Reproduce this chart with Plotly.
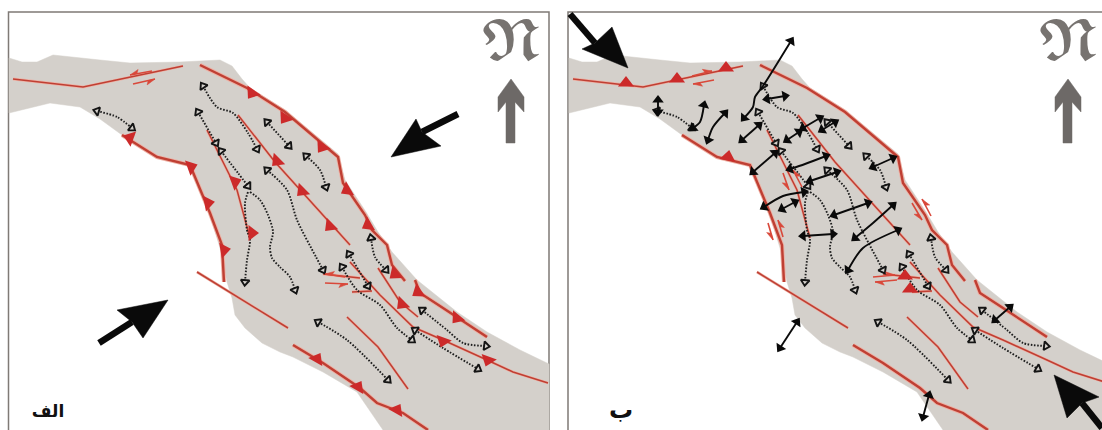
import math
import plotly.graph_objects as go

W, H = 1102, 430
B_SHIFT = 560

MAP = "#d4d0cb"
RED = "#bf3f33"
HALO = "#eeb0a4"
TOOTH = "#cc2a2a"
BLACK = "#0a0a0a"
GREY = "#6d6967"
FRAME = "#7f7a76"

# ---- base map outline (panel A position) ----
map_outline = [(9, 58), (22, 62), (37, 62), (53, 55), (100, 60), (130, 63), (180, 62), (220, 60), (232, 66),
               (242, 79), (250, 88), (285, 110), (338, 154), (345, 180), (366, 212), (378, 232), (392, 252),
               (417, 280), (457, 312), (487, 332), (520, 350), (549, 364), (549, 430), (383, 430), (357, 392),
               (323, 372), (293, 357), (280, 352), (262, 343), (245, 328), (235, 315), (232, 298), (227, 282),
               (220, 248), (210, 215), (190, 165), (157, 157), (122, 135), (100, 119), (80, 107), (50, 103), (9, 113)]

# ---- faults shared by both panels ----
f_strike = [(13, 79), (83, 87), (183, 66)]
f_east = [(200, 65), (247, 88), (285, 112), (338, 157), (343, 183), (365, 215), (372, 230), (387, 245),
          (392, 265), (405, 281)]
f_east2 = [(415, 280), (420, 293), (443, 308), (487, 337)]
f_west = [(122, 135), (157, 157), (190, 165), (210, 213), (222, 245), (224, 282)]
f_inner = [(207, 130), (232, 180), (237, 190), (250, 238)]
f_middle = [(238, 115), (275, 162), (350, 245)]
f_long = [(350, 262), (380, 295), (413, 327), (443, 340), (487, 360), (513, 372), (548, 383)]
f_lower = [(378, 268), (400, 302), (418, 317)]
f_south_in = [(347, 317), (378, 347), (408, 389)]
f_sw = [(197, 272), (280, 323), (288, 328)]
f_south = [(293, 345), (323, 363), (360, 388), (377, 403), (403, 413), (428, 430)]
f_tick_a = [(323, 274), (360, 278)]
f_tick_b = [(352, 292), (372, 291)]
thick_faults = [f_east, f_east2, f_west, f_south]
thin_faults = [f_strike, f_inner, f_middle, f_long, f_lower, f_south_in, f_sw, f_tick_a, f_tick_b]

# ---- thrust teeth: x, y, rotation ----
teeth_a_x = [252, 285, 322, 347, 368, 395, 418, 457, 235, 252, 130, 191, 208, 224, 277, 302, 330, 402, 443, 488, 317, 358, 397]
teeth_a_y = [93, 118, 147, 190, 225, 274, 292, 318, 182, 233, 138, 167, 203, 250, 161, 191, 226, 304, 341, 360, 359, 387, 410]
teeth_a_r = [215, 215, 215, 240, 240, 230, 235, 220, 70, 90, 290, 70, 80, 80, 225, 225, 225, 225, 200, 200, 30, 30, 30]
teeth_b_x = [626, 677, 726, 728, 905, 910]
teeth_b_y = [83, 79, 68, 157, 276, 289]
teeth_b_r = [0, 0, 0, 10, 0, 0]

# ---- dotted trajectories, shared ----
dot_1 = [(97, 111), (117, 117), (132, 128)]
dot_2 = [(203, 86), (217, 107), (233, 113), (248, 133), (257, 149)]
dot_3 = [(198, 112), (216, 143)]
dot_4 = [(221, 151), (238, 173), (248, 186)]
dot_5 = [(248, 192), (245, 203), (247, 230), (250, 240), (247, 260), (245, 282)]
dot_6 = [(250, 192), (260, 200), (268, 215), (273, 232), (270, 247), (272, 258), (280, 267), (290, 277), (295, 290)]
dot_7 = [(267, 170), (287, 190), (297, 220), (316, 257), (323, 270)]
dot_8 = [(267, 122), (289, 146)]
dot_9 = [(306, 156), (320, 170), (326, 187)]
dot_10 = [(371, 238), (375, 257), (386, 270)]
dot_11 = [(349, 254), (368, 286)]
dot_12 = [(342, 267), (357, 290), (380, 305), (397, 328), (412, 340)]
dot_13 = [(415, 330), (443, 348), (478, 369)]
dot_14 = [(422, 310), (447, 330), (463, 343), (486, 346)]
dot_15 = [(318, 322), (347, 340), (388, 380)]
dot_both = [dot_1, dot_2, dot_3, dot_4, dot_7, dot_8, dot_9, dot_10, dot_11, dot_12, dot_13, dot_14, dot_15]
dot_end_only = [dot_5, dot_6]

# ---- red half arrows: tail x, tail y, tip x, tip y, barb side ----
half_a = [(152, 71, 130, 75, 1), (133, 84, 155, 79, 1), (345, 277, 325, 274, 1), (325, 283, 348, 284, 1)]
half_b = [(692, 76, 712, 71, -1), (714, 80, 693, 84, -1), (873, 277, 895, 275, -1), (897, 280, 875, 282, -1),
          (783, 173, 789, 190, 1), (802, 187, 793, 170, 1), (768, 223, 773, 240, 1), (783, 237, 778, 220, 1),
          (912, 203, 922, 220, 1), (931, 216, 922, 199, 1)]

# ---- big black stress arrows: tail, tip, barb, notch, barb ----
big_a1 = [(458, 114), (391, 157), (416, 119), (422, 132), (441, 146)]
big_a2 = [(99, 343), (168, 300), (117, 310), (132, 322), (143, 338)]
big_b1 = [(570, 14), (628, 68), (612, 27), (595, 43), (582, 49)]
big_b2 = [(1102, 428), (1054, 375), (1099, 397), (1082, 403), (1067, 418)]

# ---- north arrow ----
north_outline = [(511, 79), (524, 97), (524, 112), (515, 102), (515, 143), (506, 143), (506, 102), (498, 112), (498, 97)]
north_b_shift = 557

# ---- black double arrows, panel B only ----
dbl = [
    [(791, 41), (763, 86), (755, 97), (753, 107), (744, 118)],
    [(767, 99), (785, 96)],
    [(658, 100), (658, 112)],
    [(693, 128), (700, 122), (704, 105)],
    [(708, 140), (713, 127), (725, 113)],
    [(742, 140), (759, 125)],
    [(753, 172), (775, 153)],
    [(787, 140), (799, 132)],
    [(803, 128), (820, 118)],
    [(822, 130), (835, 122)],
    [(790, 169), (805, 164), (826, 156)],
    [(810, 181), (837, 172)],
    [(764, 207), (783, 196), (804, 192)],
    [(782, 209), (795, 202)],
    [(803, 236), (833, 234)],
    [(834, 215), (868, 203)],
    [(855, 238), (873, 223), (893, 205)],
    [(848, 270), (863, 248), (898, 230)],
    [(873, 167), (893, 158)],
    [(780, 348), (797, 322)],
    [(923, 417), (929, 395)],
    [(995, 320), (1010, 307)],
]

frame_a = [(8.5, 430), (8.5, 12), (549, 12), (549, 430)]
frame_b = [(568, 430), (568, 12), (1102, 12)]

label_text = ["الف", "ب"]
north_text = "𝕹"


def xs(p, dx=0):
    return [q[0] + dx for q in p]


def ys(p):
    return [q[1] for q in p]


def heading(a, b):
    return math.degrees(math.atan2(b[0] - a[0], -(b[1] - a[1])))


fig = go.Figure()


def line(p, color, width, dx=0, dash=None, shape="linear"):
    fig.add_trace(go.Scatter(x=xs(p, dx), y=ys(p), mode="lines", hoverinfo="skip",
                             line=dict(color=color, width=width, dash=dash, shape=shape, smoothing=0.8)))


def poly(p, color, dx=0):
    q = p + [p[0]]
    fig.add_trace(go.Scatter(x=xs(q, dx), y=ys(q), mode="lines", fill="toself", fillcolor=color,
                             line=dict(color=color, width=0.5), hoverinfo="skip"))


def markers(x, y, angle, size, color, border=None, bw=0):
    fig.add_trace(go.Scatter(x=x, y=y, mode="markers", hoverinfo="skip",
                             marker=dict(symbol="triangle-up", size=size, color=color, angle=angle,
                                         line=dict(color=border or color, width=bw))))


def text(x, y, s, family, size, color, weight="normal"):
    fig.add_trace(go.Scatter(x=[x], y=[y], mode="text", text=[s], textposition="middle center", hoverinfo="skip",
                             textfont=dict(family=family, size=size, color=color, weight=weight)))


def half_arrow(t):
    x0, y0, x1, y1, side = t
    L = math.hypot(x1 - x0, y1 - y0)
    ux, uy = (x1 - x0) / L, (y1 - y0) / L
    line([(x0, y0), (x1, y1)], "#d9483a", 1.6)
    poly([(x1, y1), (x1 - 9 * ux - 4 * side * uy, y1 - 9 * uy + 4 * side * ux), (x1 - 7 * ux, y1 - 7 * uy)], "#d9483a")


def big_arrow(a):
    line([a[0], a[3]], BLACK, 6.5)
    poly(a[1:], BLACK)


def draw_panel(dx):
    poly(map_outline, MAP, dx)
    for f in thick_faults:
        line(f, HALO, 4.2, dx)
        line(f, RED, 2.4, dx)
    for f in thin_faults:
        line(f, HALO, 2.8, dx)
        line(f, RED, 1.5, dx)
    for d in dot_both + dot_end_only:
        line(d, "#1e1e1e", 1.9, dx, dash="1.6px,1.6px", shape="spline")
    mx, my, ma = [], [], []
    for d in dot_both:
        mx += [d[0][0] + dx, d[-1][0] + dx]
        my += [d[0][1], d[-1][1]]
        ma += [heading(d[1], d[0]), heading(d[-2], d[-1])]
    for d in dot_end_only:
        mx.append(d[-1][0] + dx)
        my.append(d[-1][1])
        ma.append(heading(d[-2], d[-1]))
    markers(mx, my, ma, 7.5, MAP, "#141414", 1.9)


# panel frames
line(frame_a, FRAME, 1.5)
line(frame_b, FRAME, 1.5)

draw_panel(0)
markers(teeth_a_x, teeth_a_y, teeth_a_r, 14, TOOTH)
for t in half_a:
    half_arrow(t)

draw_panel(B_SHIFT)
markers(teeth_b_x, teeth_b_y, teeth_b_r, 14, TOOTH)
for t in half_b:
    half_arrow(t)

for a in (big_a1, big_a2, big_b1, big_b2):
    big_arrow(a)

for d in dbl:
    line(d, BLACK, 1.9, shape="spline")
markers([d[0][0] for d in dbl] + [d[-1][0] for d in dbl],
        [d[0][1] for d in dbl] + [d[-1][1] for d in dbl],
        [heading(d[1], d[0]) for d in dbl] + [heading(d[-2], d[-1]) for d in dbl], 10, BLACK)

poly(north_outline, GREY)
poly(north_outline, GREY, north_b_shift)

NORTH_FONT = "DejaVu Math TeX Gyre, DejaVu Serif, serif"
text(511, 46, north_text, NORTH_FONT, 52, "#777370")
text(1068, 46, north_text, NORTH_FONT, 52, "#777370")
text(48, 413, label_text[0], "DejaVu Sans", 17, "#111111", "bold")
text(621, 412, label_text[1], "DejaVu Sans", 24, "#111111", "bold")

fig.update_layout(width=W, height=H, margin=dict(l=0, r=0, t=0, b=0), showlegend=False,
                  paper_bgcolor="white", plot_bgcolor="white",
                  xaxis=dict(range=[0, W], visible=False, domain=[0, 1], fixedrange=True),
                  yaxis=dict(range=[H, 0], visible=False, domain=[0, 1], fixedrange=True))

fig.write_html("out.html", config={"displayModeBar": False},
               post_script="document.body.style.margin='0';document.body.style.overflow='hidden';")
